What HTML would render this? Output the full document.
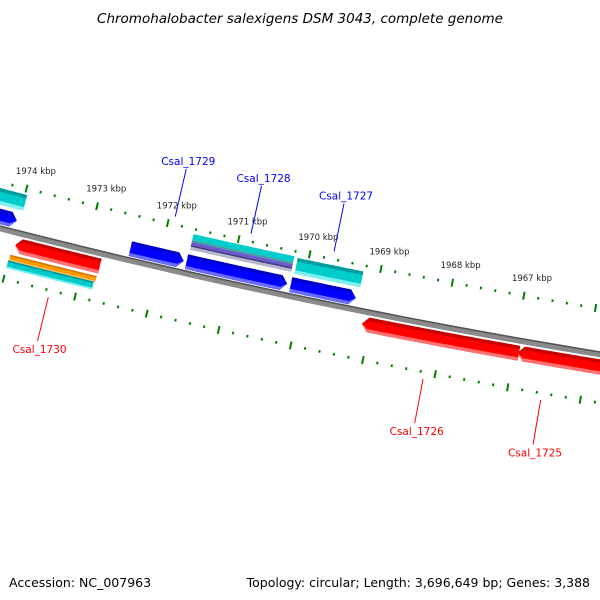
<!DOCTYPE html>
<html><head><meta charset="utf-8"><style>
html,body{margin:0;padding:0;background:#fff}
svg{display:block;font-family:"DejaVu Sans","Liberation Sans",sans-serif}
</style></head><body>
<svg id="map" width="600" height="600" viewBox="0 0 600 600">
<text x="300" y="23" text-anchor="middle" font-size="13.5" font-style="italic" fill="#000">Chromohalobacter salexigens DSM 3043, complete genome</text>
<g id="layer"></g>
<text x="9" y="587" font-size="12.5" fill="#000">Accession: NC_007963</text>
<text x="590" y="587" text-anchor="end" font-size="12.5" fill="#000">Topology: circular; Length: 3,696,649 bp; Genes: 3,388</text>
</svg>
<script>
// data
const featStart  = [1975.0, 1972.42, 1971.63, 1970.17, 1975.0, 1970.15, 1973.96, 1969.11, 1966.95, 1973.99, 1974.0];
const featEnd    = [1974.02, 1971.67, 1970.22, 1969.26, 1973.97, 1969.23, 1972.77, 1966.93, 1965.4, 1972.78, 1972.8];
const featTrack  = ['blue','blue','blue','blue','cyan','cyan','red','red','red','orange','cyanLow'];
const featArrow  = ['end','end','end','end','none','none','start','start','start','none','none'];
const stripeStart = [1971.62];
const stripeEnd   = [1970.20];
const majorTicks = [1965,1966,1967,1968,1969,1970,1971,1972,1973,1974,1975];
const labelTicks = [1967,1968,1969,1970,1971,1972,1973,1974];
const geneNames  = ['Csal_1729','Csal_1728','Csal_1727','Csal_1730','Csal_1726','Csal_1725'];
const geneKbp    = [1971.92, 1970.85, 1969.68, 1973.35, 1968.15, 1966.53];
const geneColor  = ['#0000ff','#0000ff','#0000ff','#ff0000','#ff0000','#ff0000'];
const geneSide   = ['up','up','up','down','down','down'];

const cx=1708.8, cy=-6417.5;
const NS='http://www.w3.org/2000/svg';
const layer=document.getElementById('layer');
function ang(k){return (100.01+(k-1967)*0.611)*Math.PI/180;}
function pt(k,r){const a=ang(k);return [cx+r*Math.cos(a), cy+r*Math.sin(a)];}
function el(tag,attrs){const e=document.createElementNS(NS,tag);for(const k in attrs)e.setAttribute(k,attrs[k]);layer.appendChild(e);return e;}
function band(k1,k2,r1,r2,fill,arrow,tipR){
  const n=24;const h=0.085;
  let ks=k1, ke=k2;
  if(arrow==='end') ke=k2+h;
  if(arrow==='start') ks=k1-h;
  const rm=tipR===undefined?(r1+r2)/2:tipR;
  const pts=[];
  if(arrow==='start')pts.push(pt(k1,rm));
  for(let i=0;i<=n;i++){pts.push(pt(ks+(ke-ks)*i/n,r1));}
  if(arrow==='end')pts.push(pt(k2,rm));
  for(let i=n;i>=0;i--){pts.push(pt(ks+(ke-ks)*i/n,r2));}
  return el('polygon',{points:pts.map(p=>p[0].toFixed(1)+','+p[1].toFixed(1)).join(' '),fill:fill});
}
const trackR={blue:[6843,6858],cyan:[6823,6839],red:[6867,6882],orange:[6885,6891],cyanLow:[6891,6899]};
const trackCol={blue:['#0000c8','#0000ff','#6a6aff'],cyan:['#009c9c','#00cccc','#7ff0f0'],red:['#c80000','#ff0000','#ff7070'],orange:['#cc7000','#ff9900','#ffc060'],cyanLow:['#009c9c','#00cccc','#80f0f0']};

// backbone
let b=band(1976,1964,6859,6865,'#8a8a8a','none');

b=band(1976,1964,6859,6860.5,'#555','none');


// ticks
function tickTrack(r,name){
  for(let k=1964.6;k<=1976;k+=0.2){
    const kk=Math.round(k*10)/10;
    const major=majorTicks.indexOf(Math.round(kk))>=0 && Math.abs(kk-Math.round(kk))<0.01;
    const d=major?4:1.3;
    const p1=pt(kk,r-d),p2=pt(kk,r+d);
    const t=el('line',{x1:p1[0],y1:p1[1],x2:p2[0],y2:p2[1],stroke:'#008000','stroke-width':2});
    
    
  }
}
tickTrack(6817,'upper');
tickTrack(6910,'lower');
labelTicks.forEach(k=>{
  const p=pt(k,6799);
  const t=el('text',{x:p[0]+5,y:p[1]+3,'text-anchor':'middle','font-size':'8.5',fill:'#222'});
  t.textContent=k+' kbp';
  
  
});

// features
for(let i=0;i<featStart.length;i++){
  const [r1,r2]=trackR[featTrack[i]];const c=trackCol[featTrack[i]];
  const rm=(r1+r2)/2;
  let f=band(featStart[i],featEnd[i],r1,r2,c[1],featArrow[i],rm);
  
  
  const th=(r2-r1)*0.22;
  f=band(featStart[i],featEnd[i],r1,r1+th,c[0],featArrow[i],rm);
  
  f=band(featStart[i],featEnd[i],r2-th,r2,c[2],featArrow[i],rm);
  
}
// stacked stripes (Csal_1728 region)
const stripeR=[[6822,6828,'#00cccc'],[6828,6830,'#3f9fa0'],[6830,6833,'#6a5acd'],[6833,6835,'#483d8b'],[6835,6838,'#b8b8cc']];
for(let i=0;i<stripeStart.length;i++){
  stripeR.forEach(s=>{
    const f=band(stripeStart[i],stripeEnd[i],s[0],s[1],s[2],'none');
    
    
  });
}
// gene labels
for(let i=0;i<geneNames.length;i++){
  const up=geneSide[i]==='up';
  const a=pt(geneKbp[i],up?6809:6917), c=pt(geneKbp[i],up?6760:6962);
  const l=el('line',{x1:a[0],y1:a[1],x2:c[0],y2:c[1],stroke:geneColor[i],'stroke-width':1});
  
  const t=el('text',{x:c[0]+2,y:up?c[1]-4:c[1]+12,'text-anchor':'middle','font-size':'10.5',fill:geneColor[i]});
  t.textContent=geneNames[i];
  
  
}
</script>
</body></html>
